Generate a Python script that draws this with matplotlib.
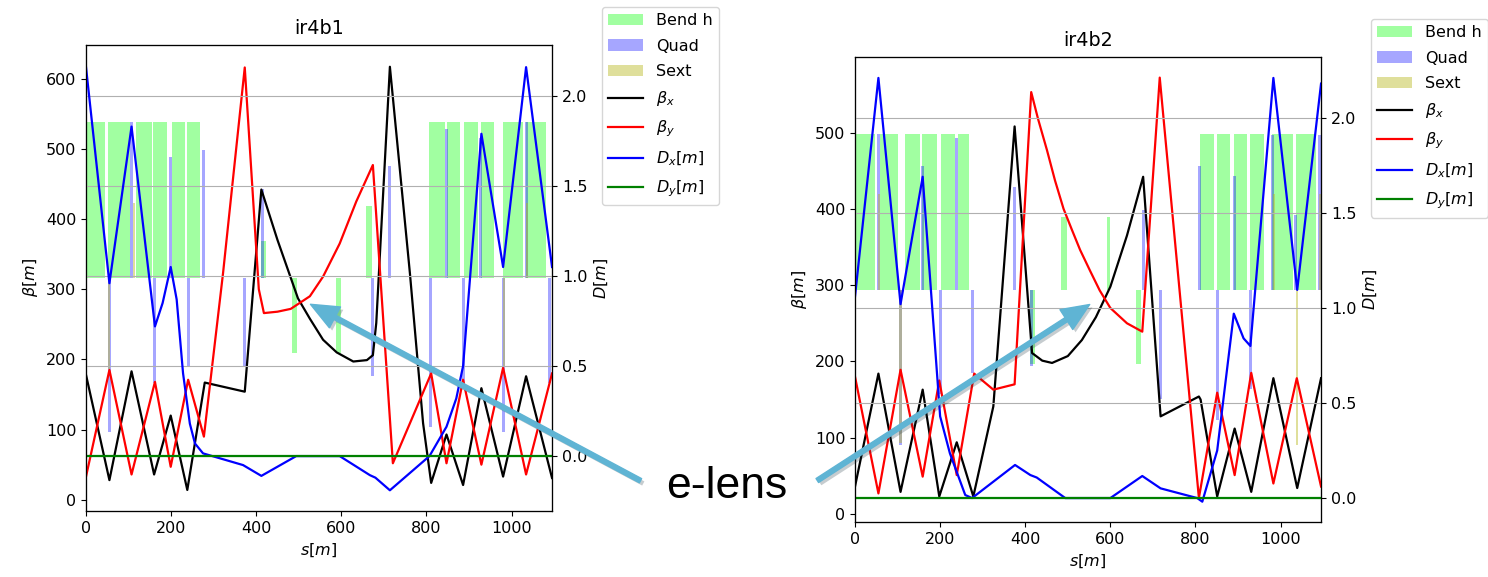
import matplotlib.pyplot as plt
import matplotlib.patheffects as pe
import numpy as np
from matplotlib.patches import Patch, FancyArrowPatch

# ---------------- ir4b1 ----------------
bx1_s = [0, 55, 107, 160, 199, 238, 279, 373, 412, 450, 498, 526, 557, 589, 628, 660, 674, 682, 714, 761, 792, 811, 847, 886, 929, 980, 1034, 1095]
bx1 = [178, 28, 183, 36, 120, 14, 167, 154, 442, 370, 287, 258, 228, 210, 197, 199, 206, 252, 617, 323, 109, 24, 93, 21, 159, 33, 176, 31]
by1_s = [0, 55, 107, 162, 199, 240, 277, 322, 373, 406, 418, 450, 481, 526, 557, 596, 635, 674, 721, 811, 847, 886, 929, 980, 1034, 1095]
by1 = [33, 185, 36, 168, 47, 171, 90, 323, 616, 300, 266, 268, 272, 290, 318, 365, 425, 477, 52, 180, 52, 171, 50, 188, 36, 180]
dx1_s = [0, 55, 107, 162, 180, 199, 213, 228, 244, 256, 275, 369, 412, 494, 596, 667, 680, 714, 807, 847, 870, 886, 929, 980, 1034, 1095]
dx1 = [2.16, 0.96, 1.83, 0.72, 0.85, 1.05, 0.87, 0.46, 0.18, 0.07, 0.015, -0.05, -0.11, 0.0, 0.0, -0.106, -0.12, -0.19, 0.0, 0.163, 0.32, 0.50, 1.79, 1.05, 2.16, 1.05]
dy1_s = [0, 1095]
dy1 = [0.0, 0.0]

bend1_s0 = [0, 52, 118, 158, 201, 237, 412, 483, 588, 659, 807, 848, 887, 927, 980, 1033]
bend1_s1 = [45, 104, 154, 191, 232, 269, 424, 496, 600, 671, 843, 879, 922, 958, 1027, 1081]
bend1_h = [0.67] * 6 + [0.16, -0.32, -0.32, 0.31] + [0.67] * 6
quad1_s = [0, 55, 107, 160, 198, 240, 276, 373, 414, 674, 714, 810, 848, 888, 927, 981, 1035, 1090]
quad1_h = [0.67, -0.66, 0.67, -0.45, 0.52, -0.38, 0.55, -0.38, 0.38, -0.42, 0.48, -0.64, 0.64, -0.45, 0.6, -0.66, 0.67, -0.45]
sext1_s = [0, 55, 113, 982, 1036]
sext1_h = [0.32, -0.39, 0.32, -0.38, 0.32]

# ---------------- ir4b2 ----------------
bx2_s = [0, 55, 107, 159, 198, 239, 278, 325, 375, 416, 440, 463, 500, 533, 566, 600, 639, 677, 718, 808, 812, 851, 892, 931, 983, 1039, 1095]
bx2 = [36, 184, 29, 163, 23, 94, 23, 141, 508, 211, 201, 198, 207, 228, 258, 298, 365, 442, 128, 154, 150, 23, 112, 29, 178, 34, 178]
by2_s = [0, 55, 107, 159, 198, 239, 280, 325, 375, 414, 430, 451, 470, 490, 510, 529, 553, 575, 600, 639, 675, 716, 808, 851, 892, 931, 983, 1038, 1095]
by2 = [180, 27, 189, 49, 175, 51, 184, 163, 170, 553, 518, 477, 437, 400, 372, 346, 318, 293, 270, 250, 239, 572, 21, 159, 51, 185, 40, 178, 36]
dx2_s = [0, 55, 107, 159, 200, 223, 259, 275, 376, 412, 427, 494, 600, 675, 718, 804, 816, 851, 890, 913, 929, 983, 1039, 1095]
dx2 = [1.06, 2.21, 1.02, 1.69, 0.43, 0.235, 0.016, 0.0, 0.174, 0.121, 0.108, 0.0, 0.0, 0.116, 0.051, 0.0, -0.019, 0.25, 0.97, 0.84, 0.80, 2.21, 1.095, 2.18]
dy2_s = [0, 1095]
dy2 = [0.0, 0.0]

bend2_s0 = [0, 59, 118, 158, 202, 241, 412, 484, 591, 661, 810, 850, 890, 929, 980, 1035]
bend2_s1 = [47, 100, 153, 192, 235, 269, 424, 498, 598, 673, 843, 881, 922, 961, 1029, 1082]
bend2_h = [0.67] * 6 + [-0.32, 0.31, 0.31, -0.32] + [0.67] * 6
quad2_s = [55, 107, 159, 200, 239, 277, 375, 415, 678, 718, 810, 851, 891, 929, 982, 1036, 1092]
quad2_h = [0.67, -0.67, 0.53, -0.45, 0.65, -0.36, 0.44, -0.33, 0.34, -0.47, 0.53, -0.56, 0.49, -0.43, 0.665, 0.32, 0.665]
sext2_s = [0, 57, 107, 985, 1038, 1092]
sext2_h = [-0.67, 0.41, -0.66, 0.41, -0.67, 0.41]

FS = 11.5
bend_col = (0, 1, 0)
quad_col = (0, 0, 1)
sext_col = (0.72, 0.72, 0.13)

fig = plt.figure(figsize=(14.88, 5.77), dpi=100)


def panel(rect, title, bx_s, bx, by_s, by, dx_s, dx, dy_s, dy,
          b0, b1, bh, qs, qh, ss, sh, blim, dlim, bticks):
    ax = fig.add_axes(rect)
    ax2 = ax.twinx()
    ax3 = ax.twinx()
    ax3.set_zorder(0)
    ax.set_zorder(1)
    ax2.set_zorder(2)
    ax.patch.set_visible(False)
    ax2.patch.set_visible(False)

    # lattice elements, centred on the middle of the plot
    b0 = np.array(b0)
    b1 = np.array(b1)
    ax3.bar(b0, bh, width=b1 - b0, align='edge', color=bend_col, alpha=0.37, lw=0)
    ax3.bar(qs, qh, width=7, color=quad_col, alpha=0.35, lw=0)
    ax3.bar(ss, sh, width=5, color=sext_col, alpha=0.45, lw=0)
    ax3.set_ylim(-1, 1)
    ax3.set_yticks([])

    l1, = ax.plot(bx_s, bx, color='k', lw=1.6, label=r'$\beta_x$')
    l2, = ax.plot(by_s, by, color='r', lw=1.6, label=r'$\beta_y$')
    l3, = ax2.plot(dx_s, dx, color='b', lw=1.6, label=r'$D_x[m]$')
    l4, = ax2.plot(dy_s, dy, color='g', lw=1.6, label=r'$D_y[m]$')

    ax.set_xlim(0, 1095)
    ax.set_ylim(*blim)
    ax.set_yticks(bticks)
    ax.set_xticks([0, 200, 400, 600, 800, 1000])
    ax2.set_ylim(*dlim)
    ax2.set_yticks([0.0, 0.5, 1.0, 1.5, 2.0])
    ax2.grid(True)

    ax.set_title(title, fontsize=13.8, pad=8)
    ax.set_xlabel(r'$s[m]$', fontsize=FS)
    ax.set_ylabel(r'$\beta[m]$', fontsize=FS)
    ax2.set_ylabel(r'$D[m]$', fontsize=FS)
    ax.tick_params(labelsize=FS)
    ax2.tick_params(labelsize=FS)

    handles = [Patch(color=bend_col, alpha=0.37, lw=0, label='Bend h'),
               Patch(color=quad_col, alpha=0.35, lw=0, label='Quad'),
               Patch(color=sext_col, alpha=0.45, lw=0, label='Sext'),
               l1, l2, l3, l4]
    ax2.legend(handles=handles, loc='upper left', bbox_to_anchor=(1.107, 1.082),
               borderaxespad=0, fontsize=FS, labelspacing=0.65, handlelength=2.2)


panel([0.0578, 0.1144, 0.3132, 0.8076], 'ir4b1', bx1_s, bx1, by1_s, by1, dx1_s, dx1, dy1_s, dy1,
      bend1_s0, bend1_s1, bend1_h, quad1_s, quad1_h, sext1_s, sext1_h,
      (-16, 648), (-0.305, 2.283), [0, 100, 200, 300, 400, 500, 600])
panel([0.5746, 0.0953, 0.3132, 0.8059], 'ir4b2', bx2_s, bx2, by2_s, by2, dx2_s, dx2, dy2_s, dy2,
      bend2_s0, bend2_s1, bend2_h, quad2_s, quad2_h, sext2_s, sext2_h,
      (-10.5, 599), (-0.126, 2.32), [0, 100, 200, 300, 400, 500])

# annotation
fig.text(727 / 1488, 79 / 577, 'e-lens', fontsize=32, family='Liberation Sans',
         ha='center', va='baseline')
arrow_style = 'simple,head_length=1.0,head_width=0.85,tail_width=0.17'
for tail, tip in [((0.4321, 0.1646), (0.207, 0.4749)),
                  ((0.5477, 0.1646), (0.7339, 0.4749))]:
    arr = FancyArrowPatch(tail, tip, transform=fig.transFigure, arrowstyle=arrow_style,
                          mutation_scale=20, color='#5fb4d4', zorder=10,
                          path_effects=[pe.SimplePatchShadow(offset=(2, -2), alpha=0.25), pe.Normal()])
    fig.patches.append(arr)

fig.savefig('out.png', dpi=100)
